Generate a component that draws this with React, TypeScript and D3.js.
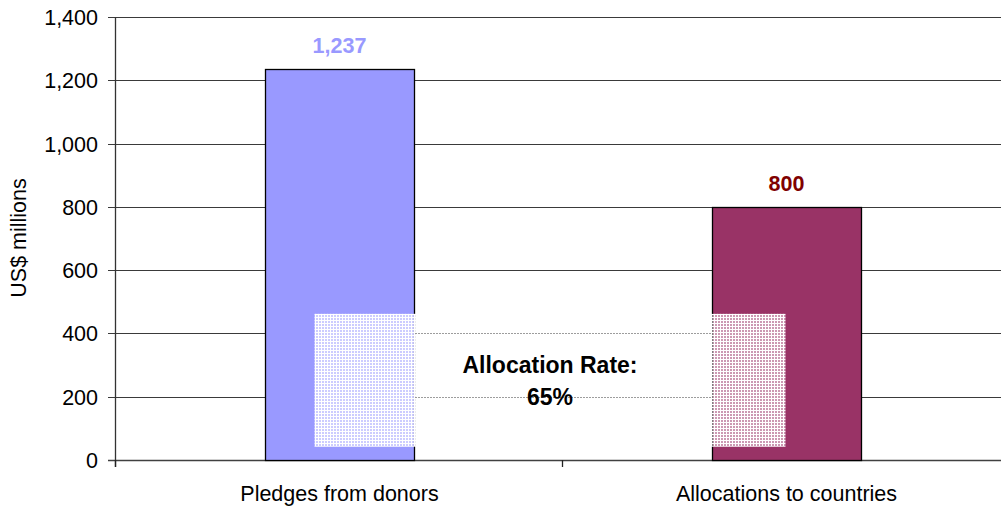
import React from "react";
import * as d3 from "d3";

const categories = ["Pledges from donors", "Allocations to countries"];
const values = [1237, 800];
const valueLabels = ["1,237", "800"];
const barColors = ["#9999FF", "#993366"];
const labelColors = ["#9999FF", "#800000"];
const yTicks = [0, 200, 400, 600, 800, 1000, 1200, 1400];
const annotationLines = ["Allocation Rate:", "65%"];

export default function App() {
  const W = 1001, H = 506;
  const left = 116, right = 1010, top = 17, bottom = 460;
  const x = d3.scaleBand<string>().domain(categories).range([left, right]);
  const y = d3.scaleLinear().domain([0, 1400]).range([bottom, top]);
  const bw = x.bandwidth() / 3;
  const fmt = d3.format(",");
  const font = "'Liberation Sans', Arial, sans-serif";
  const ovX0 = x(categories[0])! + x.bandwidth() / 2 - 25;
  const ovX1 = x(categories[1])! + x.bandwidth() / 2 - 1;
  const ovY0 = y(462);
  const ovY1 = y(42);
  return (
    <svg width={W} height={H} style={{ position: "absolute", left: 0, top: 0, background: "#fff" }} fontFamily={font}>
      <defs>
        <pattern id="grid" x={0} y={2} width={3} height={3} patternUnits="userSpaceOnUse">
          <rect x={0} y={0} width={3} height={1} fill="#fff" />
          <rect x={0} y={0} width={1} height={3} fill="#fff" />
          <rect x={1} y={1} width={2} height={2} fill="#fff" fillOpacity={0.5} />
        </pattern>
      </defs>
      {yTicks.map((t) => (
        <line key={t} x1={left - 8} x2={right} y1={Math.round(y(t)) + 0.5} y2={Math.round(y(t)) + 0.5}
          stroke={t === 0 ? "#404040" : "#3a3a3a"} strokeWidth={t === 0 ? 1.5 : 1} />
      ))}
      <line x1={left - 0.5} x2={left - 0.5} y1={top} y2={bottom + 7} stroke="#333" strokeWidth={1.3} />
      {[left, x(categories[1])!].map((px, i) => (
        <line key={i} x1={px - 0.5} x2={px - 0.5} y1={bottom} y2={bottom + 7} stroke="#222" strokeWidth={1.3} />
      ))}
      {yTicks.map((t) => (
        <text key={t} x={98} y={y(t) + 8} textAnchor="end" fontSize={21.5} fill="#000">{fmt(t)}</text>
      ))}
      {categories.map((c, i) => {
        const bx = x(c)! + bw;
        return (
          <g key={c}>
            <rect x={Math.round(bx) + 0.5} y={Math.round(y(values[i])) + 0.5} width={Math.round(bw)}
              height={Math.round(bottom - y(values[i]))} fill={barColors[i]} stroke="#000" strokeWidth={1.3} />
            <text x={bx + bw / 2} y={y(values[i]) - 16} textAnchor="middle" fontSize={21.5} fontWeight="bold"
              fill={labelColors[i]}>{valueLabels[i]}</text>
            <text x={x(c)! + x.bandwidth() / 2} y={501} textAnchor="middle" fontSize={21.5} fill="#000">{c}</text>
          </g>
        );
      })}
      <rect x={ovX0} y={ovY0} width={ovX1 - ovX0} height={ovY1 - ovY0} fill="url(#grid)" />
      {annotationLines.map((s, i) => (
        <text key={i} x={550} y={373 + i * 32} textAnchor="middle" fontSize={23} fontWeight="bold" fill="#000">{s}</text>
      ))}
      <text transform={`translate(26,238) rotate(-90)`} textAnchor="middle" fontSize={21.5} fill="#000">US$ millions</text>
    </svg>
  );
}
